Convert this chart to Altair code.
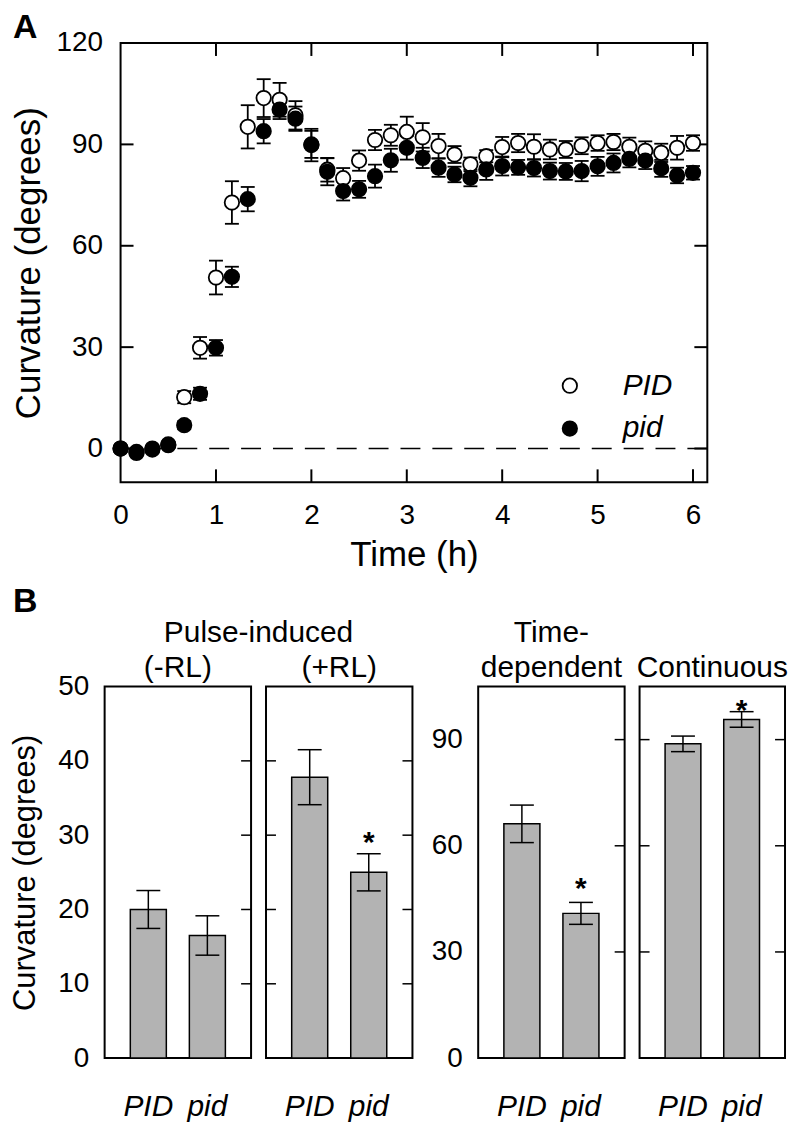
import altair as alt
import pandas as pd

FONT = "Liberation Sans"

# ---------------- Panel A data ----------------
time_h = [0.0, 0.167, 0.333, 0.5, 0.667, 0.833, 1.0, 1.167, 1.333, 1.5, 1.667, 1.833,
          2.0, 2.167, 2.333, 2.5, 2.667, 2.833, 3.0, 3.167, 3.333, 3.5, 3.667, 3.833,
          4.0, 4.167, 4.333, 4.5, 4.667, 4.833, 5.0, 5.167, 5.333, 5.5, 5.667, 5.833, 6.0]
PID_mean = [0, -1, 0, 1.0, 15.2, 29.8, 50.6, 72.8, 95.2, 103.7, 103.2, 98.6,
            90.0, 82.5, 80.0, 85.2, 91.3, 92.7, 93.7, 92.1, 89.5, 87.0, 84.1, 86.5,
            89.2, 90.4, 89.3, 88.5, 88.5, 89.6, 90.4, 90.7, 89.3, 88.1, 87.5, 89.0, 90.4]
PID_err = [0.5, 0.5, 0.5, 0.8, 1.8, 3.2, 5.0, 6.3, 6.4, 5.6, 5.0, 4.2,
           4.0, 3.5, 3.0, 3.0, 3.0, 3.1, 4.5, 4.2, 3.6, 2.5, 2.0, 1.8,
           3.0, 2.7, 3.7, 2.9, 2.5, 2.5, 2.3, 2.4, 2.7, 2.8, 2.7, 3.5, 2.3]
pid_mean = [0, -1.3, -0.3, 1.2, 6.9, 16.2, 29.8, 50.8, 73.8, 93.9, 100.3, 97.6,
            89.8, 81.9, 76.2, 76.7, 80.6, 85.3, 89.0, 86.0, 83.1, 81.1, 80.1, 82.6,
            83.6, 83.2, 83.0, 82.1, 82.0, 82.1, 83.5, 84.5, 85.7, 85.2, 82.9, 80.8, 81.6]
pid_err = [0.5, 0.5, 0.5, 0.8, 1.2, 1.8, 2.3, 3.0, 3.6, 3.6, 2.8, 3.6,
           4.8, 4.0, 2.8, 2.5, 3.4, 3.4, 3.5, 3.0, 2.7, 2.3, 2.5, 3.1,
           2.8, 2.2, 2.5, 2.5, 2.5, 3.0, 2.8, 2.8, 2.5, 2.5, 2.5, 2.3, 2.0]
genotypes = ["PID", "pid"]
a_xticks = [0, 1, 2, 3, 4, 5, 6]
a_yticks = [0, 30, 60, 90, 120]

# ---------------- Panel B data ----------------
b_groups = ["-RL", "+RL", "Time", "Cont"]
b_PID_mean = [20.0, 37.8, 66.2, 88.8]
b_PID_err = [2.55, 3.7, 5.3, 2.2]
b_pid_mean = [16.5, 25.0, 40.9, 95.7]
b_pid_err = [2.65, 2.5, 3.1, 2.2]
b_pid_sig = ["", "*", "*", "*"]

rows = []
for g, means, errs in [("PID", PID_mean, PID_err), ("pid", pid_mean, pid_err)]:
    for t, m, e in zip(time_h, means, errs):
        rows.append(dict(t=t, v=m, lo=m - e, hi=m + e, geno=g))
df_a = pd.DataFrame(rows)

brows = []
for i, g in enumerate(b_groups):
    brows.append(dict(group=g, geno="PID", mean=b_PID_mean[i], lo=b_PID_mean[i] - b_PID_err[i],
                      hi=b_PID_mean[i] + b_PID_err[i], sig=""))
    brows.append(dict(group=g, geno="pid", mean=b_pid_mean[i], lo=b_pid_mean[i] - b_pid_err[i],
                      hi=b_pid_mean[i] + b_pid_err[i], sig=b_pid_sig[i]))
df_b = pd.DataFrame(brows)


def text_layer(txt, xv, yv, fs, bold=False, align="center", baseline="middle"):
    return alt.Chart(pd.DataFrame({"lab": [txt]})).mark_text(
        align=align, baseline=baseline, fontSize=fs, fontWeight="bold" if bold else "normal",
        color="black", font=FONT).encode(text="lab:N", x=alt.value(xv), y=alt.value(yv))


# ---------------- Panel A ----------------
WA, HA = 589, 441
TLA = 13
sx_a = alt.Scale(domain=[0, 6.15], nice=False, zero=False)
sy_a = alt.Scale(domain=[-10, 120], nice=False, zero=False)
ax_x_a = alt.Axis(values=a_xticks, format="d", title="Time (h)", ticks=False, domain=False, grid=False,
                  labelFontSize=28, labelPadding=19, labelFlush=False, labelOverlap=False,
                  titleFontSize=35, titleFontWeight="normal", titlePadding=8)
ax_y_a = alt.Axis(values=a_yticks, title="Curvature (degrees)", ticks=False, domain=False, grid=False,
                  labelFontSize=28, labelPadding=18, labelFlush=False, labelOverlap=False,
                  titleFontSize=35, titleFontWeight="normal", titlePadding=10)


def XA(f):
    return alt.X(f"{f}:Q", scale=sx_a, axis=ax_x_a)


def YA(f):
    return alt.Y(f"{f}:Q", scale=sy_a, axis=ax_y_a)


base_a = alt.Chart(df_a)
zero_line = alt.Chart(pd.DataFrame({"v": [0]})).mark_rule(
    strokeDash=[20, 12], strokeWidth=1.5, color="black").encode(y=YA("v"))

ytick_df = pd.DataFrame({"v": [0, 30, 60, 90]})
xtick_df = pd.DataFrame({"t": [1, 2, 3, 4, 5, 6]})
lt = alt.Chart(ytick_df).mark_rule(strokeWidth=2, color="black").encode(
    y=YA("v"), x=alt.value(0), x2=alt.value(TLA))
rt = alt.Chart(ytick_df).mark_rule(strokeWidth=2, color="black").encode(
    y=YA("v"), x=alt.value(WA - TLA), x2=alt.value(WA))
bt = alt.Chart(xtick_df).mark_rule(strokeWidth=2, color="black").encode(
    x=XA("t"), y=alt.value(HA - TLA), y2=alt.value(HA))
tt = alt.Chart(xtick_df).mark_rule(strokeWidth=2, color="black").encode(
    x=XA("t"), y=alt.value(0), y2=alt.value(TLA))

err_rule = base_a.mark_rule(strokeWidth=1.8, color="black").encode(
    x=XA("t"), y=YA("lo"), y2="hi:Q")
cap_lo = base_a.mark_tick(orient="horizontal", size=14, thickness=1.8, color="black", opacity=1).encode(
    x=XA("t"), y=YA("lo"))
cap_hi = base_a.mark_tick(orient="horizontal", size=14, thickness=1.8, color="black", opacity=1).encode(
    x=XA("t"), y=YA("hi"))
points = base_a.mark_point(shape="circle", filled=True, size=210, stroke="black",
                           strokeWidth=1.8, opacity=1).encode(
    x=XA("t"), y=YA("v"),
    fill=alt.Fill("geno:N", scale=alt.Scale(domain=genotypes, range=["white", "black"]),
                  legend=alt.Legend(orient="none", legendX=452, legendY=329, title=None,
                                    labelFontSize=30, labelFontStyle="italic", labelFont=FONT,
                                    labelColor="black", symbolSize=210, symbolType="circle",
                                    symbolStrokeColor="black", symbolStrokeWidth=1.8,
                                    symbolOpacity=1, labelOffset=38, rowPadding=13, padding=0)))
letter_a = text_layer("A", -108, -5, 34, bold=True, align="left", baseline="alphabetic")

panel_a = alt.layer(zero_line, lt, rt, bt, tt, err_rule, cap_lo, cap_hi, points, letter_a).properties(
    width=WA, height=HA)

spacer_a = alt.Chart(pd.DataFrame({"v": [0]})).mark_point(opacity=0).encode(
    x=alt.value(0), y=alt.value(0)).properties(width=16, height=HA,
                                               view=alt.ViewConfig(stroke="transparent"))
row_a = alt.hconcat(spacer_a, panel_a, spacing=0, bounds="flush")

# ---------------- Panel B ----------------
HB = 373
TLB = 10


def bar_panel(group, width, ymax, label_vals, tick_vals, show_labels, ytitle,
              left_ticks, star_dy, extras=()):
    d = df_b[df_b.group == group]
    ys = alt.Scale(domain=[0, ymax], nice=False, zero=True)
    if show_labels:
        yax = alt.Axis(values=label_vals, ticks=False, domain=False, grid=False, labelFontSize=28,
                       labelPadding=16, labelFlush=False, labelOverlap=False, title=ytitle,
                       titleFontSize=31, titleFontWeight="normal", titlePadding=16)
    else:
        yax = None

    def Y(f):
        return alt.Y(f"{f}:Q", scale=ys, axis=yax)

    xs = alt.Scale(domain=genotypes, paddingInner=0.39, paddingOuter=0.435)
    xax = alt.Axis(title=None, labelAngle=0, ticks=False, domain=False, grid=False,
                   labelFontSize=30, labelFontStyle="italic", labelPadding=34)
    X = alt.X("geno:N", scale=xs, axis=xax, sort=genotypes)
    base = alt.Chart(d)
    bars = base.mark_bar(fill="#b3b3b3", stroke="black", strokeWidth=1.5).encode(x=X, y=Y("mean"))
    rule = base.mark_rule(strokeWidth=1.5, color="black").encode(x=X, y=Y("lo"), y2="hi:Q")
    c1 = base.mark_tick(orient="horizontal", size=24, thickness=1.5, color="black", opacity=1).encode(
        x=X, y=Y("lo"))
    c2 = base.mark_tick(orient="horizontal", size=24, thickness=1.5, color="black", opacity=1).encode(
        x=X, y=Y("hi"))
    star = base.mark_text(fontSize=30, fontWeight="bold", baseline="alphabetic", dy=star_dy,
                          color="black", font=FONT).encode(x=X, y=Y("hi"), text="sig:N")
    tdf = pd.DataFrame({"v": tick_vals})
    layers = [bars, rule, c1, c2, star]
    layers.append(alt.Chart(tdf).mark_rule(strokeWidth=1.5, color="black").encode(
        y=Y("v"), x=alt.value(width - TLB), x2=alt.value(width)))
    if left_ticks:
        layers.append(alt.Chart(tdf).mark_rule(strokeWidth=1.5, color="black").encode(
            y=Y("v"), x=alt.value(0), x2=alt.value(TLB)))
    layers.extend(extras)
    return alt.layer(*layers).properties(width=width, height=HB)


p1 = bar_panel("-RL", 147, 50, [0, 10, 20, 30, 40, 50], [10, 20, 30, 40], True,
               "Curvature (degrees)", False, -2,
               extras=[text_layer("B", -92, -75, 34, bold=True, align="left", baseline="alphabetic"),
                       text_layer("Pulse-induced", 154.5, -54, 30),
                       text_layer("(-RL)", 73.5, -19, 30)])
p2 = bar_panel("+RL", 147, 50, [0, 10, 20, 30, 40, 50], [10, 20, 30, 40], False,
               None, True, -2, extras=[text_layer("(+RL)", 73.5, -19, 30)])
spacer_b = alt.Chart(pd.DataFrame({"v": [0]})).mark_point(opacity=0).encode(
    x=alt.value(0), y=alt.value(0)).properties(width=36, height=HB,
                                               view=alt.ViewConfig(stroke="transparent"))
p3 = bar_panel("Time", 147, 105, [0, 30, 60, 90], [30, 60, 90], True,
               None, False, -4, extras=[text_layer("Time-", 73.5, -54, 30),
                                        text_layer("dependent", 73.5, -19, 30)])
p4 = bar_panel("Cont", 146, 105, [0, 30, 60, 90], [30, 60, 90], False,
               None, True, 8, extras=[text_layer("Continuous", 73, -19, 30)])

panel_b = alt.hconcat(p1, p2, spacer_b, p3, p4, spacing=15, bounds="flush")

chart = alt.vconcat(row_a, panel_b, spacing=11).properties(
    padding={"left": 0, "top": 0, "right": 0, "bottom": 0}
).configure(font=FONT).configure_view(stroke="black", strokeWidth=2).configure_axis(
    labelColor="black", titleColor="black", labelFont=FONT, titleFont=FONT)

chart.save("out.html", embed_options={"renderer": "svg", "actions": False})
